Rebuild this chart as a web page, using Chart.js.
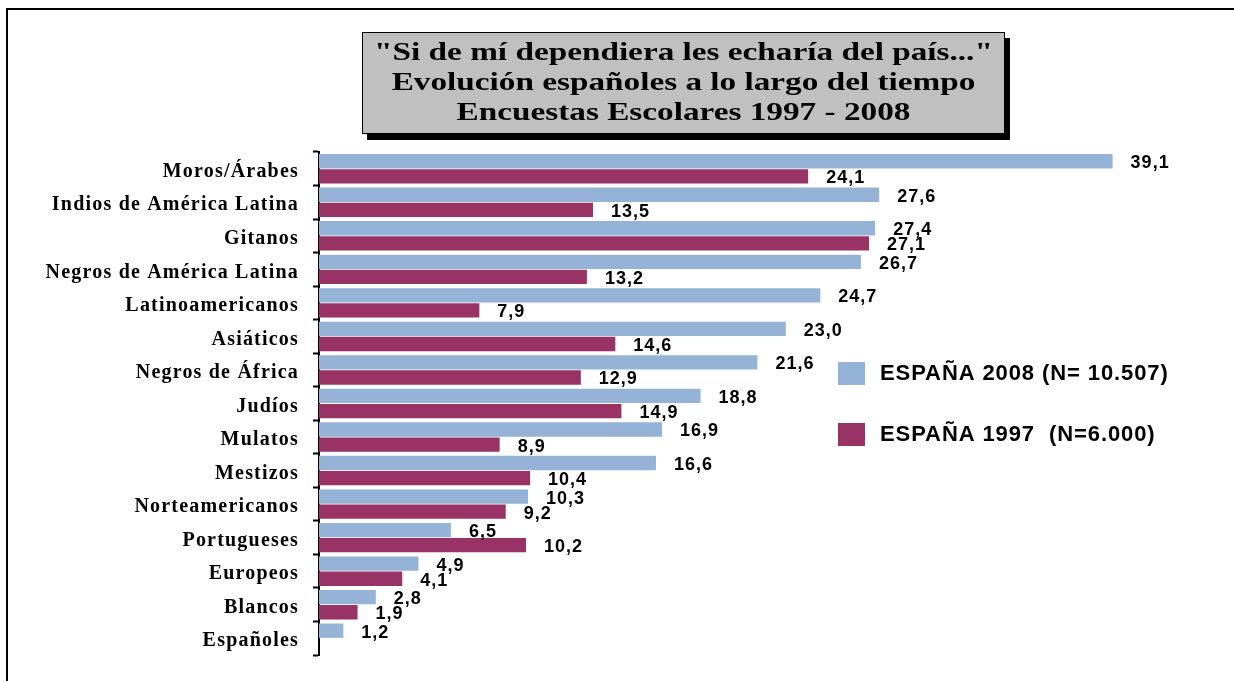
<!DOCTYPE html>
<html>
<head>
<meta charset="utf-8">
<script src="https://cdn.jsdelivr.net/npm/chart.js@4.4.1/dist/chart.umd.min.js"></script>
<style>
  html, body { margin: 0; padding: 0; background: #fff; }
  #wrap { position: relative; width: 1234px; height: 681px; overflow: hidden; }
  #frame { position: absolute; left: 6px; top: 8px; right: -4px; bottom: -4px; border-top: 2px solid #000; border-left: 2px solid #000; }
  #chart { position: absolute; left: 0; top: 0; }
  #title {
    position: absolute; left: 362px; top: 32px; width: 641px; height: 96px;
    background: #c0c0c0; border: 1px solid #000; box-shadow: 5px 6px 0 #000;
    font-family: 'Liberation Serif', 'Times New Roman', serif; font-weight: bold; font-size: 25px;
    line-height: 30px; text-align: center; padding-top: 4px; box-sizing: content-box; color: #000;
  }
  #title span { display: block; transform: scaleX(1.33); transform-origin: center; white-space: nowrap; }
</style>
</head>
<body>
<div id="wrap">
  <div id="frame"></div>
  <canvas id="chart" width="1234" height="681"></canvas>
  <div id="title"><span>"Si de mí dependiera les echaría del país..."</span><span>Evolución españoles a lo largo del tiempo</span><span>Encuestas Escolares 1997 - 2008</span></div>
</div>
<script>
const categories = [
  'Moros/Árabes', 'Indios de América Latina', 'Gitanos', 'Negros de América Latina',
  'Latinoamericanos', 'Asiáticos', 'Negros de África', 'Judíos', 'Mulatos', 'Mestizos',
  'Norteamericanos', 'Portugueses', 'Europeos', 'Blancos', 'Españoles'
];
const espana2008 = [39.1, 27.6, 27.4, 26.7, 24.7, 23.0, 21.6, 18.8, 16.9, 16.6, 10.3, 6.5, 4.9, 2.8, 1.2];
const espana1997 = [24.1, 13.5, 27.1, 13.2, 7.9, 14.6, 12.9, 14.9, 8.9, 10.4, 9.2, 10.2, 4.1, 1.9, null];
const seriesLabels = ['ESPAÑA 2008 (N= 10.507)', 'ESPAÑA 1997  (N=6.000)'];

const BLUE = '#95b3d7';
const PLUM = '#993366';

// letter spacing for the stretched look of the original
const spacingPlugin = {
  id: 'spacing',
  beforeDraw(chart) {
    chart.ctx.letterSpacing = '1.2px';
  }
};

const valueLabels = {
  id: 'valueLabels',
  afterDatasetsDraw(chart) {
    const ctx = chart.ctx;
    ctx.save();
    ctx.letterSpacing = '1px';
    ctx.font = 'bold 18px "Liberation Sans", Arial, sans-serif';
    ctx.fillStyle = '#000';
    ctx.textAlign = 'left';
    ctx.textBaseline = 'middle';
    chart.data.datasets.forEach((ds, di) => {
      const meta = chart.getDatasetMeta(di);
      meta.data.forEach((bar, i) => {
        const v = ds.data[i];
        if (v === null || v === undefined) return;
        ctx.fillText(v.toFixed(1).replace('.', ','), bar.x + 18, bar.y + 2);
      });
    });
    ctx.restore();
  }
};

const sideLegend = {
  id: 'sideLegend',
  afterDraw(chart) {
    const ctx = chart.ctx;
    ctx.save();
    ctx.letterSpacing = '0.9px';
    ctx.font = 'bold 22px "Liberation Sans", Arial, sans-serif';
    ctx.textAlign = 'left';
    ctx.textBaseline = 'middle';
    const rows = [362, 423];
    chart.data.datasets.forEach((ds, i) => {
      const top = rows[i];
      ctx.fillStyle = ds.backgroundColor;
      ctx.fillRect(838, top, 27, 23);
      ctx.fillStyle = '#000';
      ctx.fillText(ds.label, 880, top + 12);
    });
    ctx.restore();
  }
};

new Chart(document.getElementById('chart'), {
  type: 'bar',
  data: {
    labels: categories,
    datasets: [
      { label: seriesLabels[0], data: espana2008, backgroundColor: BLUE, categoryPercentage: 0.9, barPercentage: 0.95 },
      { label: seriesLabels[1], data: espana1997, backgroundColor: PLUM, categoryPercentage: 0.9, barPercentage: 0.95 },
    ],
  },
  options: {
    indexAxis: 'y',
    responsive: false,
    animation: false,
    layout: { padding: { left: 0, top: 152, right: 26, bottom: 21 } },
    plugins: {
      legend: { display: false },
      title: { display: false },
      tooltip: { enabled: false },
    },
    scales: {
      x: { display: false, min: 0, max: 43.8 },
      y: {
        offset: true,
        grid: { offset: true, drawOnChartArea: false, tickLength: 6, tickColor: '#000', tickWidth: 2 },
        border: { color: '#000', width: 2 },
        ticks: {
          autoSkip: false, padding: 14, labelOffset: 3, color: '#000',
          font: { family: '"Liberation Serif", "Times New Roman", serif', weight: 'bold', size: 20 },
        },
        afterFit(scale) { scale.width = 319; },
      },
    },
  },
  plugins: [spacingPlugin, valueLabels, sideLegend],
});
</script>
</body>
</html>
